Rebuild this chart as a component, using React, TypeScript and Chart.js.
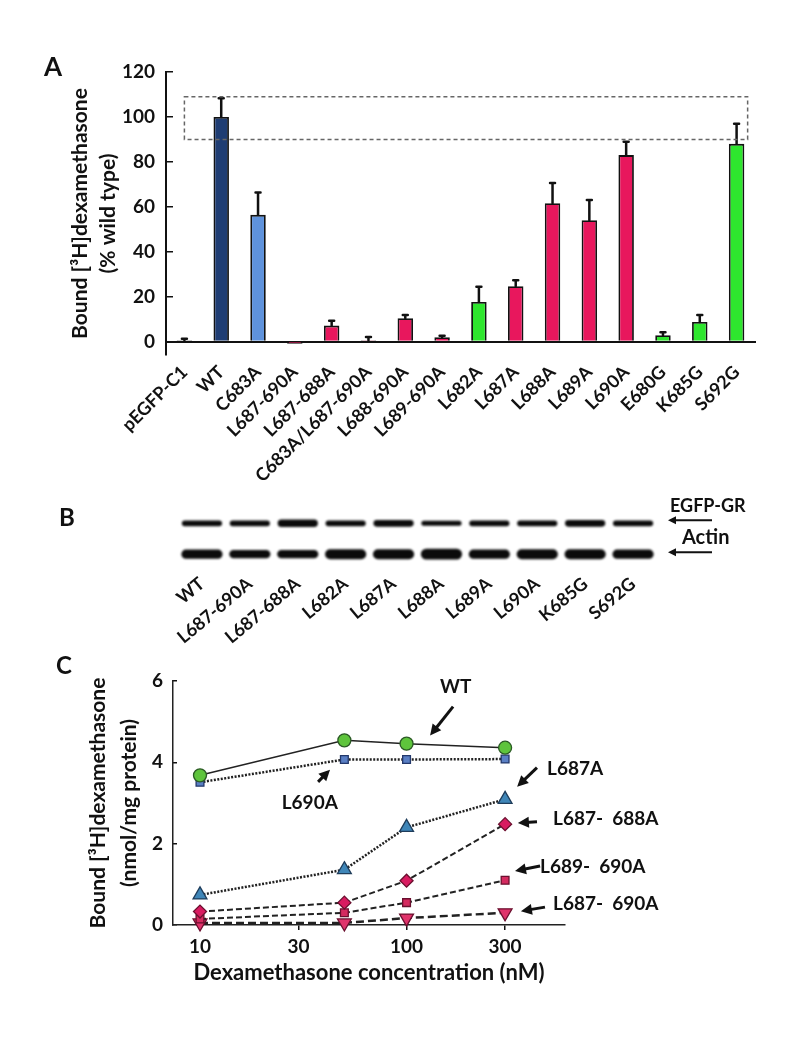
import React, { useEffect, useRef } from 'react';
import { Chart, registerables } from 'chart.js';

Chart.register(...registerables);

const FONT = 'Lato, "Open Sans", "DejaVu Sans", sans-serif';
const INK = '#111111';
Chart.defaults.font.family = FONT;

// ---------------- Panel A : binding, % of wild type ----------------
const mutants = ['pEGFP-C1', 'WT', 'C683A', 'L687-690A', 'L687-688A', 'C683A/L687-690A', 'L688-690A', 'L689-690A', 'L682A', 'L687A', 'L688A', 'L689A', 'L690A', 'E680G', 'K685G', 'S692G'];
const mutantGroups = ['control', 'wt', 'c683a', 'leu', 'leu', 'leu', 'leu', 'leu', 'other', 'leu', 'leu', 'leu', 'leu', 'other', 'other', 'other'];
const bindingPct = [0.6, 100, 56.4, -1, 7.1, 0.6, 10.4, 1.9, 17.6, 24.6, 61.6, 54, 83, 2.8, 8.7, 88];
const bindingSd = [0.6, 8.3, 10, 0, 2.2, 1.4, 1.4, 0.7, 6.8, 2.7, 9, 9, 6, 1.3, 3.1, 9];
const bindingTicks = [0, 20, 40, 60, 80, 100, 120];
const highlightLow = 90;
const highlightHigh = 109;

// ---------------- Panel B : western blot ----------------
const blotLanes = ['WT', 'L687-690A', 'L687-688A', 'L682A', 'L687A', 'L688A', 'L689A', 'L690A', 'K685G', 'S692G'];
const egfpBand = [7, 7, 9, 7, 8, 6, 7, 7, 8, 7];
const actinBand = [11, 10, 10, 12, 12, 13, 11, 12, 12, 11];
const egfpPosition = 50;
const actinPosition = 13;

// ---------------- Panel C : saturation binding ----------------
const concentrations = [10, 50, 100, 300];
const concTicks = [10, 30, 100, 300];
const bindTicksC = [0, 2, 4, 6];
const wtBound = [3.68, 4.54, 4.46, 4.36];
const l690aBound = [3.51, 4.07, 4.07, 4.08];
const l687aBound = [0.74, 1.36, 2.4, 3.09];
const l687_688aBound = [0.33, 0.55, 1.09, 2.48];
const l689_690aBound = [0.15, 0.3, 0.55, 1.1];
const l687_690aBound = [0.05, 0.05, 0.17, 0.3];

const cLabels = [
  { text: 'WT', x: 173, y: 5.86, align: 'center' },
  { text: 'L690A', x: 34, y: 3.0, align: 'center' },
  { text: 'L687A', x: 479, y: 3.84, align: 'left' },
  { text: 'L687-  688A', x: 512, y: 2.61, align: 'left' },
  { text: 'L689-  690A', x: 443, y: 1.43, align: 'left' },
  { text: 'L687-  690A', x: 512, y: 0.52, align: 'left' },
];
const cArrows = [
  { from: [168, 5.37], to: [130, 4.66] },
  { from: [37.3, 3.52], to: [42.6, 3.82] },
  { from: [428, 3.87], to: [343, 3.4] },
  { from: [428, 2.54], to: [346, 2.51] },
  { from: [443, 1.45], to: [335, 1.33] },
  { from: [468, 0.44], to: [358, 0.34] },
];

const groupColors: Record<string, string> = {
  control: '#444444',
  wt: '#1f3d73',
  c683a: '#5e92dc',
  leu: '#e8175d',
  other: '#2ee62e',
};

function drawArrow(ctx: CanvasRenderingContext2D, x1: number, y1: number, x2: number, y2: number, width: number, head: number) {
  const ang = Math.atan2(y2 - y1, x2 - x1);
  const c = Math.cos(ang);
  const s = Math.sin(ang);
  ctx.lineWidth = width;
  ctx.lineCap = 'butt';
  ctx.beginPath();
  ctx.moveTo(x1, y1);
  ctx.lineTo(x2 - c * head * 0.7, y2 - s * head * 0.7);
  ctx.stroke();
  ctx.beginPath();
  ctx.moveTo(x2, y2);
  ctx.lineTo(x2 - head * c + head * 0.5 * s, y2 - head * s - head * 0.5 * c);
  ctx.lineTo(x2 - head * c - head * 0.5 * s, y2 - head * s + head * 0.5 * c);
  ctx.closePath();
  ctx.fill();
}

const errorBarPlugin = {
  id: 'errorBars',
  afterDatasetsDraw(chart: any) {
    const { ctx } = chart;
    const y = chart.scales.y;
    const xs = chart.scales.x;
    const meta = chart.getDatasetMeta(0);
    ctx.save();
    ctx.strokeStyle = INK;
    ctx.lineWidth = 2.5;
    ctx.lineCap = 'round';
    meta.data.forEach((bar: any, i: number) => {
      const sd = bindingSd[i];
      if (!sd) return;
      const v = bindingPct[i];
      const base = y.getPixelForValue(v);
      const top = y.getPixelForValue(v + sd);
      ctx.beginPath();
      ctx.moveTo(bar.x, base);
      ctx.lineTo(bar.x, top);
      ctx.moveTo(bar.x - 2.5, top);
      ctx.lineTo(bar.x + 2.5, top);
      ctx.stroke();
    });
    // dashed highlight box
    const step = xs.getPixelForValue(1) - xs.getPixelForValue(0);
    const left = xs.getPixelForValue(0);
    const right = xs.getPixelForValue(mutants.length - 1) + 0.3 * step;
    const top = y.getPixelForValue(highlightHigh);
    const bottom = y.getPixelForValue(highlightLow);
    ctx.setLineDash([4, 3]);
    ctx.lineCap = 'butt';
    ctx.strokeStyle = '#666';
    ctx.lineWidth = 1.5;
    ctx.strokeRect(left, top, right - left, bottom - top);
    ctx.restore();
  },
};

const blotPlugin = {
  id: 'blot',
  beforeDatasetsDraw(chart: any) {
    chart.ctx.save();
    chart.ctx.filter = 'blur(1px)';
  },
  afterDatasetsDraw(chart: any) {
    const { ctx, chartArea } = chart;
    ctx.restore();
    const y = chart.scales.y;
    const ye = y.getPixelForValue(egfpPosition);
    const ya = y.getPixelForValue(actinPosition);
    ctx.save();
    ctx.strokeStyle = INK;
    ctx.fillStyle = INK;
    drawArrow(ctx, chartArea.right + 55, ye - 3, chartArea.right + 11, ye - 3, 2, 8);
    drawArrow(ctx, chartArea.right + 55, ya - 2, chartArea.right + 11, ya - 2, 2, 8);
    ctx.textBaseline = 'middle';
    ctx.textAlign = 'left';
    ctx.font = `bold 18px ${FONT}`;
    ctx.fillText('EGFP-GR', chartArea.right + 13, ye - 17);
    ctx.font = `bold 20px ${FONT}`;
    ctx.fillText('Actin', chartArea.right + 25, ya - 17);
    ctx.restore();
  },
};

const annotPlugin = {
  id: 'annot',
  afterDraw(chart: any) {
    const { ctx } = chart;
    const xs = chart.scales.x;
    const ys = chart.scales.y;
    ctx.save();
    ctx.fillStyle = INK;
    ctx.strokeStyle = INK;
    ctx.font = `bold 19px ${FONT}`;
    ctx.textBaseline = 'middle';
    cLabels.forEach((l) => {
      ctx.textAlign = l.align as CanvasTextAlign;
      ctx.fillText(l.text, xs.getPixelForValue(l.x), ys.getPixelForValue(l.y));
    });
    cArrows.forEach((a) => {
      drawArrow(ctx, xs.getPixelForValue(a.from[0]), ys.getPixelForValue(a.from[1]), xs.getPixelForValue(a.to[0]), ys.getPixelForValue(a.to[1]), 3, 11);
    });
    ctx.restore();
  },
};

const tickFont = (size: number) => ({ family: FONT, size, weight: 'bold' as const });

function makeA(canvas: HTMLCanvasElement) {
  return new Chart(canvas, {
    type: 'bar',
    data: {
      labels: mutants,
      datasets: [
        {
          data: bindingPct,
          backgroundColor: mutantGroups.map((g) => groupColors[g]),
          borderColor: INK,
          borderWidth: 1.8,
          barPercentage: 0.42,
          categoryPercentage: 1,
        },
      ],
    },
    options: {
      animation: false,
      responsive: false,
      layout: { padding: { left: 0, right: 42, top: 72, bottom: 135 } },
      plugins: { legend: { display: false }, tooltip: { enabled: false } },
      scales: {
        x: {
          position: { y: 0 } as any,
          grid: { display: false },
          border: { display: true, color: INK, width: 2 },
          ticks: { autoSkip: false, maxRotation: 45, minRotation: 45, padding: 12, color: INK, font: tickFont(18) },
        },
        y: {
          min: -6,
          max: 120,
          afterBuildTicks: (s: any) => {
            s.ticks = bindingTicks.map((v) => ({ value: v }));
          },
          afterFit: (s: any) => {
            s.width = 166;
          },
          grid: { drawOnChartArea: false, drawTicks: true, tickLength: -7, color: INK, lineWidth: 1.5 },
          border: { color: INK, width: 2 },
          ticks: { padding: 18, color: INK, font: tickFont(19) },
          title: {
            display: true,
            text: ['Bound [\u00B3H]dexamethasone', '(% wild type)'],
            color: INK,
            font: { family: FONT, size: 21, weight: 'bold', lineHeight: 1.33 },
            padding: { top: 66, bottom: 0 },
          },
        },
      },
    },
    plugins: [errorBarPlugin],
  } as any);
}

function makeB(canvas: HTMLCanvasElement) {
  return new Chart(canvas, {
    type: 'bar',
    data: {
      labels: blotLanes,
      datasets: [
        {
          label: 'EGFP-GR',
          data: egfpBand.map((t) => [egfpPosition - t / 2, egfpPosition + t / 2]),
          backgroundColor: '#0b0b0b',
          borderWidth: 0,
          borderRadius: 100,
          borderSkipped: false,
          grouped: false,
          barPercentage: 0.84,
          categoryPercentage: 1,
        },
        {
          label: 'Actin',
          data: actinBand.map((t) => [actinPosition - t / 2, actinPosition + t / 2]),
          backgroundColor: '#0b0b0b',
          borderWidth: 0,
          borderRadius: 100,
          borderSkipped: false,
          grouped: false,
          barPercentage: 0.86,
          categoryPercentage: 1,
        },
      ],
    },
    options: {
      animation: false,
      responsive: false,
      layout: { padding: { left: 178, right: 140, top: 25, bottom: 0 } },
      plugins: { legend: { display: false }, tooltip: { enabled: false } },
      scales: {
        x: {
          grid: { display: false },
          border: { display: false },
          afterFit: (s: any) => {
            s.height = 85;
          },
          ticks: { autoSkip: false, maxRotation: 40, minRotation: 40, padding: 0, color: INK, font: tickFont(18) },
        },
        y: { display: false, min: 0, max: 60 },
      },
    },
    plugins: [blotPlugin],
  } as any);
}

function series(label: string, values: number[], style: any) {
  return {
    label,
    data: concentrations.map((c, i) => ({ x: c, y: values[i] })),
    borderColor: '#222',
    pointBorderWidth: 1.3,
    clip: false,
    ...style,
  };
}

function makeC(canvas: HTMLCanvasElement) {
  return new Chart(canvas, {
    type: 'line',
    data: {
      datasets: [
        series('WT', wtBound, { borderWidth: 1.5, pointStyle: 'circle', pointRadius: 6.5, pointBackgroundColor: '#5ec43c', pointBorderColor: '#2b5a25' }),
        series('L690A', l690aBound, { borderWidth: 2.5, borderDash: [2, 1.5], pointStyle: 'rect', pointRadius: 5.5, pointBackgroundColor: '#5a7fc4', pointBorderColor: '#23386b' }),
        series('L687A', l687aBound, { borderWidth: 2.5, borderDash: [2, 1.5], pointStyle: 'triangle', pointRadius: 8, pointBackgroundColor: '#3f86b8', pointBorderColor: '#1e3c5a' }),
        series('L687-688A', l687_688aBound, { borderWidth: 2, borderDash: [6, 3], pointStyle: 'rectRot', pointRadius: 6.5, pointBackgroundColor: '#d81b60', pointBorderColor: '#6a0f2e' }),
        series('L689-690A', l689_690aBound, { borderWidth: 2, borderDash: [6, 3], pointStyle: 'rect', pointRadius: 5.5, pointBackgroundColor: '#d42a5f', pointBorderColor: '#6a0f2e' }),
        series('L687-690A', l687_690aBound, { borderWidth: 2.5, borderDash: [8, 4], pointStyle: 'triangle', pointRotation: 180, pointRadius: 8, pointBackgroundColor: '#e0336b', pointBorderColor: '#6a0f2e' }),
      ],
    },
    options: {
      animation: false,
      responsive: false,
      layout: { padding: { left: 0, right: 232, top: 41, bottom: 0 } },
      plugins: { legend: { display: false }, tooltip: { enabled: false } },
      scales: {
        x: {
          type: 'logarithmic',
          min: 7.4,
          max: 585,
          afterBuildTicks: (s: any) => {
            s.ticks = concTicks.map((v) => ({ value: v }));
          },
          afterFit: (s: any) => {
            s.height = 112;
          },
          grid: { drawOnChartArea: false, drawTicks: true, tickLength: 5, color: INK, lineWidth: 1.5 },
          border: { color: '#222', width: 1.5 },
          ticks: { autoSkip: false, maxRotation: 0, padding: 5, color: INK, font: tickFont(19), callback: (v: any) => String(v) },
          title: {
            display: true,
            text: 'Dexamethasone concentration (nM)',
            color: INK,
            font: { family: FONT, size: 22, weight: 'bold', lineHeight: 1.2 },
            padding: { top: 0, bottom: 51 },
          },
        },
        y: {
          min: 0,
          max: 6,
          afterBuildTicks: (s: any) => {
            s.ticks = bindTicksC.map((v) => ({ value: v }));
          },
          afterFit: (s: any) => {
            s.width = 173;
          },
          grid: { drawOnChartArea: false, drawTicks: true, tickLength: -4, color: INK, lineWidth: 1.5 },
          border: { color: '#222', width: 1.5 },
          ticks: { padding: 14, color: INK, font: tickFont(19) },
          title: {
            display: true,
            text: ['Bound [\u00B3H]dexamethasone', '(nmol/mg protein)'],
            color: INK,
            font: { family: FONT, size: 21, weight: 'bold', lineHeight: 1.5 },
            padding: { top: 82, bottom: 0 },
          },
        },
      },
    },
    plugins: [annotPlugin],
  } as any);
}

const letter = (x: number, y: number, size: number): React.CSSProperties => ({
  position: 'absolute',
  left: x,
  top: y,
  transform: 'translate(-50%, -50%)',
  fontFamily: FONT,
  fontWeight: 'bold',
  fontSize: size,
  lineHeight: 1,
  color: '#111',
});

export default function App() {
  const refA = useRef<HTMLCanvasElement>(null);
  const refB = useRef<HTMLCanvasElement>(null);
  const refC = useRef<HTMLCanvasElement>(null);

  useEffect(() => {
    const a = makeA(refA.current!);
    const b = makeB(refB.current!);
    const c = makeC(refC.current!);
    return () => {
      a.destroy();
      b.destroy();
      c.destroy();
    };
  }, []);

  return (
    <div style={{ position: 'absolute', left: 0, top: 0, width: 797, height: 1037, background: '#fff', overflow: 'hidden' }}>
      <canvas ref={refA} width={797} height={490} style={{ position: 'absolute', left: 0, top: 0, width: 797, height: 490 }} />
      <canvas ref={refB} width={797} height={160} style={{ position: 'absolute', left: 0, top: 490, width: 797, height: 160 }} />
      <canvas ref={refC} width={797} height={397} style={{ position: 'absolute', left: 0, top: 640, width: 797, height: 397 }} />
      <div style={letter(53, 66, 26)}>A</div>
      <div style={letter(67, 517, 24)}>B</div>
      <div style={letter(64, 665, 24)}>C</div>
    </div>
  );
}
